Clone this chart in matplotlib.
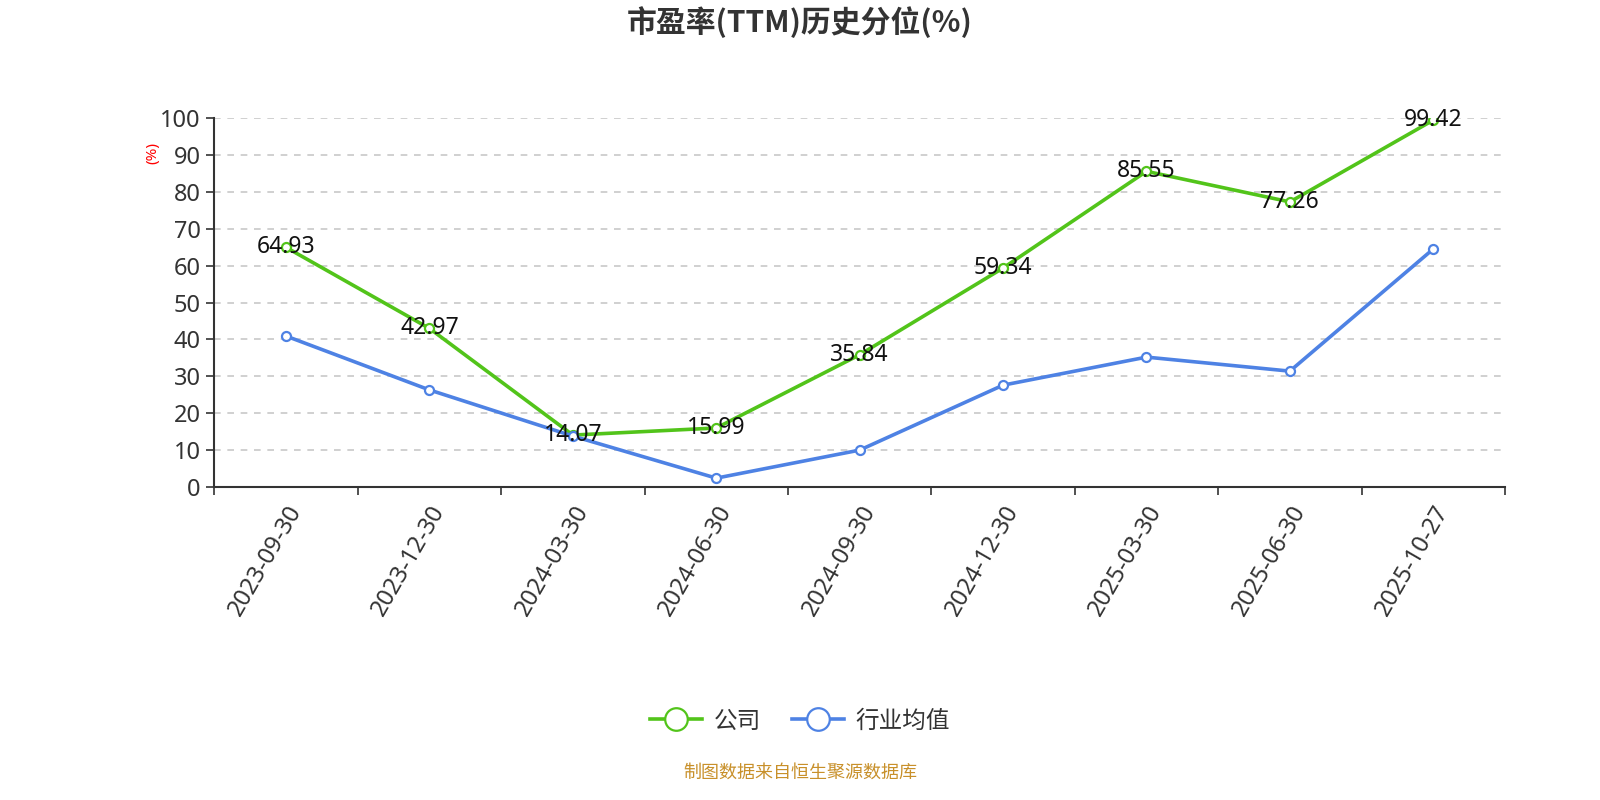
import numpy as np
import matplotlib
matplotlib.use("Agg")
import matplotlib.pyplot as plt

plt.rcParams['font.family'] = ['Noto Sans', 'Noto Sans CJK SC', 'DejaVu Sans']

dates = ["2023-09-30", "2023-12-30", "2024-03-30", "2024-06-30", "2024-09-30",
         "2024-12-30", "2025-03-30", "2025-06-30", "2025-10-27"]
company = [64.93, 42.97, 14.07, 15.99, 35.84, 59.34, 85.55, 77.26, 99.42]
industry = [40.9, 26.3, 13.8, 2.4, 10.0, 27.6, 35.2, 31.4, 64.5]

GREEN = "#52c41a"
BLUE = "#4e82e4"

fig = plt.figure(figsize=(16, 8), dpi=100)
ax = fig.add_axes([0.134, 0.39125, 0.8066, 0.46125])

x = np.arange(len(dates))
ax.plot(x, company, color=GREEN, lw=2.6, marker="o", ms=6.5, mfc="white",
        mec=GREEN, mew=1.6, label="公司", zorder=3)
ax.plot(x, industry, color=BLUE, lw=2.6, marker="o", ms=6.5, mfc="white",
        mec=BLUE, mew=1.6, label="行业均值", zorder=3)

for xi, v in zip(x, company):
    ax.text(xi, v, f"{v:.2f}", ha="center", va="center", fontsize=16.5,
            color="#111", zorder=4)

ax.set_xlim(-0.5, len(dates) - 0.5)
ax.set_ylim(0, 100)
ax.set_yticks(np.arange(0, 101, 10))
ax.tick_params(axis="y", labelsize=17, colors="#333", length=6, width=1.2, pad=4)
ax.yaxis.grid(True, ls=(0, (4, 4)), color="#c8c8c8", lw=1.2)
ax.set_axisbelow(True)

ax.set_xticks(np.arange(-0.5, len(dates), 1.0))
ax.set_xticklabels([])
ax.set_xticks(x, minor=True)
ax.set_xticklabels(dates, minor=True, rotation=60, ha="right", va="top",
                   rotation_mode="anchor", fontsize=17, color="#333")
ax.tick_params(axis="x", which="major", length=6, width=1.2, color="#333")
ax.tick_params(axis="x", which="minor", length=0, pad=10)

for s in ("top", "right"):
    ax.spines[s].set_visible(False)
for s in ("left", "bottom"):
    ax.spines[s].set_color("#333")
    ax.spines[s].set_linewidth(1.5)

ax.text(-0.048, 0.905, "(%)", transform=ax.transAxes, rotation=90,
        color="red", fontsize=11, ha="center", va="center")

fig.text(0.5, 0.972, "市盈率(TTM)历史分位(%)", ha="center", va="center",
         fontsize=21.5, fontweight="bold", color="#333",
         family=["Noto Sans CJK SC", "DejaVu Sans"])

leg = fig.legend(loc="center", bbox_to_anchor=(0.5, 0.098), ncol=2, frameon=False,
                 fontsize=17, handlelength=2.2, columnspacing=1.3, handletextpad=0.5,
                 markerscale=2.5, labelcolor="#333")
fig.text(0.5, 0.034, "制图数据来自恒生聚源数据库", ha="center", va="center",
         fontsize=13, color="#c8902a")

fig.savefig("out.png", dpi=100)
